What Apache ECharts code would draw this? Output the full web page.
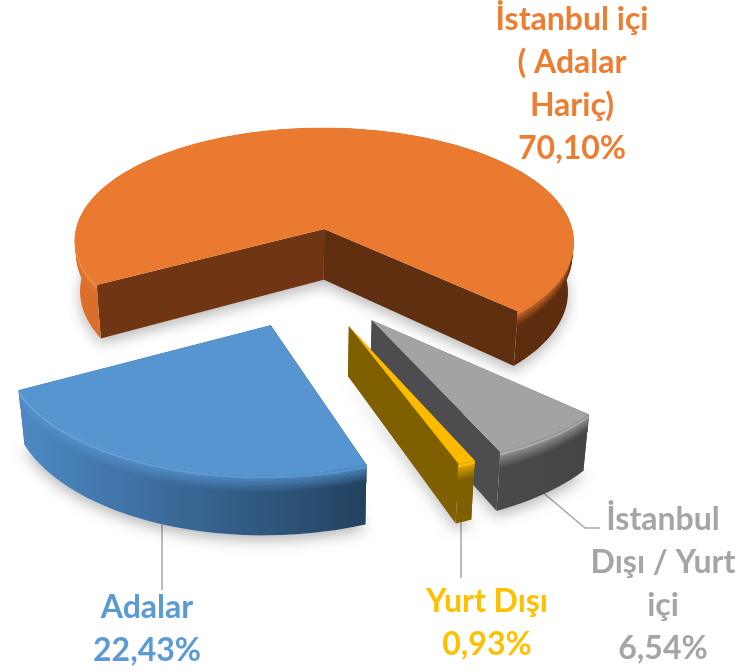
<!DOCTYPE html>
<html><head><meta charset="utf-8">
<style>html,body{margin:0;padding:0;background:#fff}#c{width:739px;height:672px}</style>
<script src="https://cdn.jsdelivr.net/npm/echarts@6/dist/echarts.min.js"></script>
</head><body><div id="c"></div>
<script>
// data
const categories = ['Adalar', 'İstanbul içi\n( Adalar\nHariç)', 'İstanbul\nDışı / Yurt\niçi', 'Yurt Dışı'];
const shares = [22.43, 70.10, 6.54, 0.93];
// styles
const topColors = ['#5795d1', '#e97a30', '#a3a3a3', '#fdbb00'];
const textColors = ['#5b9bd5', '#ed7d31', '#a5a5a5', '#ffc000'];
const wallLeft = ['#4d88c4', '#d96f2b', '#4a4a4a', '#7f6000'];
const wallRight = ['#234260', '#5e2d0f', '#454545', '#7f6000'];
const radialWalls = [['#2f5578', '#2f5578'], ['#703512', '#5f2f10'], ['#4d4d4f', '#4d4d4f'], ['#7f6000', '#7f6000']];
const labelAt = [[147, 629], [572, 84.5], [663, 584], [487, 623.5]];
const leaders = [[[162, 519], [162, 590]], null, [[540, 490], [585, 528], [600, 528]], [[461, 518], [461, 578]]];
const explode = [0.43, 0.43, 0.43, 0.43];
const radiusScale = [0.99, 1.05, 0.98, 0.98];
const nudgeX = [5, 5, 2, 2];
const nudgeY = [2, 0, 3, 3];
const sliceK = [0.16, 0.1, 0.16, 0.16];
const sliceH = [110, 115, 110, 110];
const sliceDepth = [47, 53, 47, 47];
const drawOrder = [1, 2, 3, 0];
const startAngle = 160.5;
const view = { cx: 306, cy: 276, rx: 246, taper: 0.02 };

function project(idx, u, v, z) {
  const s = 1 / (1 + sliceK[idx] * u);
  return [view.cx + nudgeX[idx] + view.rx * v * s * (1 - view.taper * z),
          view.cy + nudgeY[idx] - sliceH[idx] * u * s + sliceDepth[idx] * z * s];
}
function mix(a, b, t) {
  const p = c => [1, 3, 5].map(i => parseInt(c.substr(i, 2), 16));
  const A = p(a), B = p(b);
  return 'rgb(' + A.map((x, i) => Math.round(x + (B[i] - x) * t)).join(',') + ')';
}
function sliceSpan(idx) {
  const total = shares.reduce((a, b) => a + b, 0);
  let a = startAngle;
  for (let i = 0; i < idx; i++) a += shares[i] / total * 360;
  return [a, a + shares[idx] / total * 360];
}
function renderSlice(params, api) {
  const idx = api.value(0);
  const [a0, a1] = sliceSpan(idx);
  const rad = d => d * Math.PI / 180;
  const mid = rad((a0 + a1) / 2);
  const ou = explode[idx] * Math.cos(mid), ov = explode[idx] * Math.sin(mid);
  const n = Math.max(6, Math.round((a1 - a0) / 2));
  const r = radiusScale[idx];
  const rim = z => {
    const pts = [];
    for (let i = 0; i <= n; i++) {
      const t = rad(a0 + (a1 - a0) * i / n);
      pts.push(project(idx, ou + r * Math.cos(t), ov + r * Math.sin(t), z));
    }
    return pts;
  };
  const apex = z => project(idx, ou, ov, z);
  const rimTop = rim(0), rimBot = rim(1);
  const children = [];
  const xs = rimBot.map(p => p[0]);
  const xMin = Math.min.apply(null, xs), xMax = Math.max.apply(null, xs);
  // soft ground shadow
  children.push({ type: 'polygon', shape: { points: [apex(1)].concat(rimBot) },
    style: { fill: '#ffffff', shadowBlur: 14, shadowColor: 'rgba(0,0,0,0.28)', shadowOffsetY: 5 } });
  // radial walls
  children.push({ type: 'polygon', shape: { points: [apex(0), rimTop[0], rimBot[0], apex(1)] }, style: { fill: radialWalls[idx][0] } });
  children.push({ type: 'polygon', shape: { points: [apex(0), rimTop[n], rimBot[n], apex(1)] }, style: { fill: radialWalls[idx][1] } });
  // outer wall, left to right shade
  const stops = idx === 1
    ? [{ offset: 0, color: wallLeft[idx] }, { offset: 0.06, color: wallLeft[idx] }, { offset: 0.9, color: wallRight[idx] }, { offset: 1, color: wallRight[idx] }]
    : [{ offset: 0, color: wallLeft[idx] }, { offset: 1, color: wallRight[idx] }];
  const grad = { type: 'linear', x: xMin, y: 0, x2: xMax, y2: 0, global: true, colorStops: stops };
  children.push({ type: 'polygon', shape: { points: rimTop.concat(rimBot.slice().reverse()) }, style: { fill: grad } });
  // rounded shoulder between the top and the wall
  const steps = 14, band = 0.3;
  for (let j = 0; j < steps; j++) {
    const z0 = band * j / steps, z1 = band * (j + 1) / steps;
    const a = rim(z0), b = rim(z1);
    const f = (j + 1) / steps;
    const g = { type: 'linear', x: xMin, y: 0, x2: xMax, y2: 0, global: true, colorStops: stops.map(s => ({ offset: s.offset, color: mix(topColors[idx], s.color, f) })) };
    children.push({ type: 'polygon', shape: { points: a.concat(b.reverse()) }, style: { fill: g, stroke: g, lineWidth: 0.5 } });
  }
  // faint highlight on the shoulder, fading to the right
  children.push({ type: 'polyline', shape: { points: rim(0.04) }, style: { fill: null, lineWidth: 2, stroke: { type: 'linear', x: xMin, y: 0, x2: xMax, y2: 0, global: true, colorStops: [
    { offset: 0, color: mix(topColors[idx], '#ffffff', 0.12) }, { offset: 0.6, color: mix(topColors[idx], '#ffffff', 0.05) }, { offset: 1, color: topColors[idx] }] } } });
  // top face
  children.push({ type: 'polygon', shape: { points: [apex(0)].concat(rimTop) }, style: { fill: topColors[idx] } });
  return { type: 'group', children };
}
function renderLabel(params, api) {
  const idx = api.value(0);
  const children = [];
  if (leaders[idx]) children.push({ type: 'polyline', shape: { points: leaders[idx] }, style: { fill: null, stroke: '#a6a6a6', lineWidth: 1.5 } });
  children.push({ type: 'text', x: labelAt[idx][0], y: labelAt[idx][1], style: {
    text: categories[idx] + '\n' + shares[idx].toFixed(2).replace('.', ',') + '%',
    fill: textColors[idx], font: 'bold 32px Lato', lineHeight: 43, align: 'center', verticalAlign: 'middle' } });
  return { type: 'group', children };
}
const chart = echarts.init(document.getElementById('c'), null, { renderer: 'canvas' });
chart.setOption({
  animation: false,
  backgroundColor: '#fff',
  series: [
    { type: 'custom', silent: true, coordinateSystem: 'none', renderItem: renderLabel, data: categories.map((c, i) => [i, shares[i]]), z: 1 },
    { type: 'custom', silent: true, coordinateSystem: 'none', renderItem: renderSlice, data: drawOrder.map(i => [i, shares[i]]), z: 2 }
  ]
});
</script></body></html>
